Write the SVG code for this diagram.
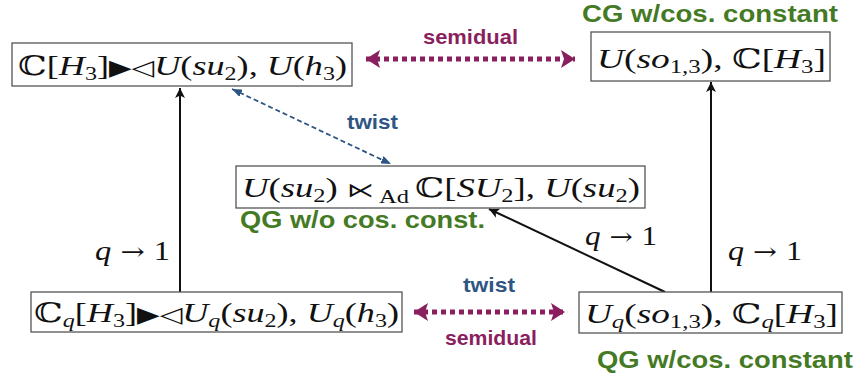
<svg xmlns="http://www.w3.org/2000/svg" width="859" height="382" viewBox="0 0 859 382">
<style>
.box{fill:#fff;stroke:#555;stroke-width:1.3}
.m{font-family:"Liberation Serif","DejaVu Serif",serif;font-size:27px;fill:#111}
.i{font-style:italic}
.s{font-size:18px}
.sym{font-family:"DejaVu Sans",sans-serif;font-size:22px}
.lx{font-family:"DejaVu Sans",sans-serif;font-size:20px}
.lab{font-family:"Liberation Sans",Arial,sans-serif;font-weight:bold}
.g{fill:#457a25;font-size:24px}
.p{fill:#8a1f5f;font-size:21px}
.b{fill:#2f5683;font-size:21px}
.q{font-family:"Liberation Serif",serif;font-size:27px;fill:#111}
.ar{font-family:"DejaVu Serif",serif;font-size:24px}
.semi{stroke:#8a1f5f;stroke-width:5;stroke-dasharray:5 4;fill:none}
.tw{stroke:#2f5683;stroke-width:1.8;stroke-dasharray:5 3;fill:none}
.blk{stroke:#111;stroke-width:2;fill:none}
</style>
<defs>
<marker id="pa" viewBox="0 0 14 18" refX="14" refY="9" markerWidth="14" markerHeight="18" markerUnits="userSpaceOnUse" orient="auto-start-reverse"><path d="M0,0 L14,9 L0,18 L3,9 Z" fill="#8a1f5f"/></marker>
<marker id="ba" viewBox="0 0 10 8" refX="10" refY="4" markerWidth="10" markerHeight="8" markerUnits="userSpaceOnUse" orient="auto-start-reverse"><path d="M0,0 L10,4 L0,8 Z" fill="#2f5683"/></marker>
<marker id="ka" viewBox="0 0 10 10" refX="10" refY="5" markerWidth="10" markerHeight="10" markerUnits="userSpaceOnUse" orient="auto"><path d="M0,0 L10,5 L0,10 L2.5,5 Z" fill="#111"/></marker>
</defs>

<g id="connectors">
<line class="semi" x1="366" y1="59" x2="575" y2="59" marker-start="url(#pa)" marker-end="url(#pa)"/>
<line class="semi" x1="414" y1="312" x2="565" y2="312" marker-start="url(#pa)" marker-end="url(#pa)"/>
<line class="tw" x1="232" y1="89" x2="391" y2="164" marker-start="url(#ba)" marker-end="url(#ba)"/>
<line class="blk" x1="180" y1="292" x2="180" y2="88" marker-end="url(#ka)"/>
<line class="blk" x1="711" y1="292" x2="711" y2="82" marker-end="url(#ka)"/>
<line class="blk" x1="665" y1="292" x2="489" y2="209" marker-end="url(#ka)"/>
</g>

<g id="labels">
<text class="lab g" x="582" y="22" textLength="256" lengthAdjust="spacingAndGlyphs">CG w/cos. constant</text>
<text class="lab p" x="423" y="44" textLength="95" lengthAdjust="spacingAndGlyphs">semidual</text>
<text class="lab b" x="347" y="129" textLength="51" lengthAdjust="spacingAndGlyphs">twist</text>
<text class="lab g" x="240" y="228" textLength="245" lengthAdjust="spacingAndGlyphs">QG w/o cos. const.</text>
<text class="lab b" x="463" y="292" textLength="52" lengthAdjust="spacingAndGlyphs">twist</text>
<text class="lab p" x="445" y="345" textLength="92" lengthAdjust="spacingAndGlyphs">semidual</text>
<text class="lab g" x="597" y="368" textLength="256" lengthAdjust="spacingAndGlyphs">QG w/cos. constant</text>
<text class="q" x="95" y="260" textLength="75" lengthAdjust="spacingAndGlyphs"><tspan class="i">q</tspan><tspan class="ar"> → </tspan>1</text>
<text class="q" x="585" y="245" textLength="72" lengthAdjust="spacingAndGlyphs"><tspan class="i">q</tspan><tspan class="ar"> → </tspan>1</text>
<text class="q" x="728" y="260" textLength="74" lengthAdjust="spacingAndGlyphs"><tspan class="i">q</tspan><tspan class="ar"> → </tspan>1</text>
</g>

<g id="n1">
<rect class="box" x="12" y="43" width="340" height="43"/>
<text class="m" x="18" y="75" textLength="329" lengthAdjust="spacingAndGlyphs">ℂ[<tspan class="i">H</tspan><tspan class="s" dy="5">3</tspan><tspan dy="-5">]</tspan><tspan class="sym">▶◁</tspan><tspan class="i">U</tspan>(<tspan class="i">su</tspan><tspan class="s" dy="5">2</tspan><tspan dy="-5">),  </tspan><tspan class="i">U</tspan>(<tspan class="i">h</tspan><tspan class="s" dy="5">3</tspan><tspan dy="-5">)</tspan></text>
</g>

<g id="n2">
<rect class="box" x="591" y="32" width="239" height="49"/>
<text class="m" x="597" y="68" textLength="229" lengthAdjust="spacingAndGlyphs"><tspan class="i">U</tspan>(<tspan class="i">so</tspan><tspan class="s" dy="5">1,3</tspan><tspan dy="-5">),  ℂ[</tspan><tspan class="i">H</tspan><tspan class="s" dy="5">3</tspan><tspan dy="-5">]</tspan></text>
</g>

<g id="n3">
<rect class="box" x="236" y="166" width="409" height="42"/>
<text class="m" x="242" y="197" textLength="398" lengthAdjust="spacingAndGlyphs"><tspan class="i">U</tspan>(<tspan class="i">su</tspan><tspan class="s" dy="5">2</tspan><tspan dy="-5">) </tspan><tspan class="lx">⋉</tspan><tspan class="s" dy="6"> Ad </tspan><tspan dy="-6">ℂ[</tspan><tspan class="i">SU</tspan><tspan class="s" dy="5">2</tspan><tspan dy="-5">],  </tspan><tspan class="i">U</tspan>(<tspan class="i">su</tspan><tspan class="s" dy="5">2</tspan><tspan dy="-5">)</tspan></text>
</g>

<g id="n4">
<rect class="box" x="31" y="292" width="371" height="40"/>
<text class="m" x="34" y="322" textLength="365" lengthAdjust="spacingAndGlyphs">ℂ<tspan class="s i" dy="5">q</tspan><tspan dy="-5">[</tspan><tspan class="i">H</tspan><tspan class="s" dy="5">3</tspan><tspan dy="-5">]</tspan><tspan class="sym">▶◁</tspan><tspan class="i">U</tspan><tspan class="s i" dy="5">q</tspan><tspan dy="-5">(</tspan><tspan class="i">su</tspan><tspan class="s" dy="5">2</tspan><tspan dy="-5">),  </tspan><tspan class="i">U</tspan><tspan class="s i" dy="5">q</tspan><tspan dy="-5">(</tspan><tspan class="i">h</tspan><tspan class="s" dy="5">3</tspan><tspan dy="-5">)</tspan></text>
</g>

<g id="n5">
<rect class="box" x="579" y="292" width="263" height="41"/>
<text class="m" x="585" y="323" textLength="253" lengthAdjust="spacingAndGlyphs"><tspan class="i">U</tspan><tspan class="s i" dy="5">q</tspan><tspan dy="-5">(</tspan><tspan class="i">so</tspan><tspan class="s" dy="5">1,3</tspan><tspan dy="-5">),  ℂ</tspan><tspan class="s i" dy="5">q</tspan><tspan dy="-5">[</tspan><tspan class="i">H</tspan><tspan class="s" dy="5">3</tspan><tspan dy="-5">]</tspan></text>
</g>
</svg>
